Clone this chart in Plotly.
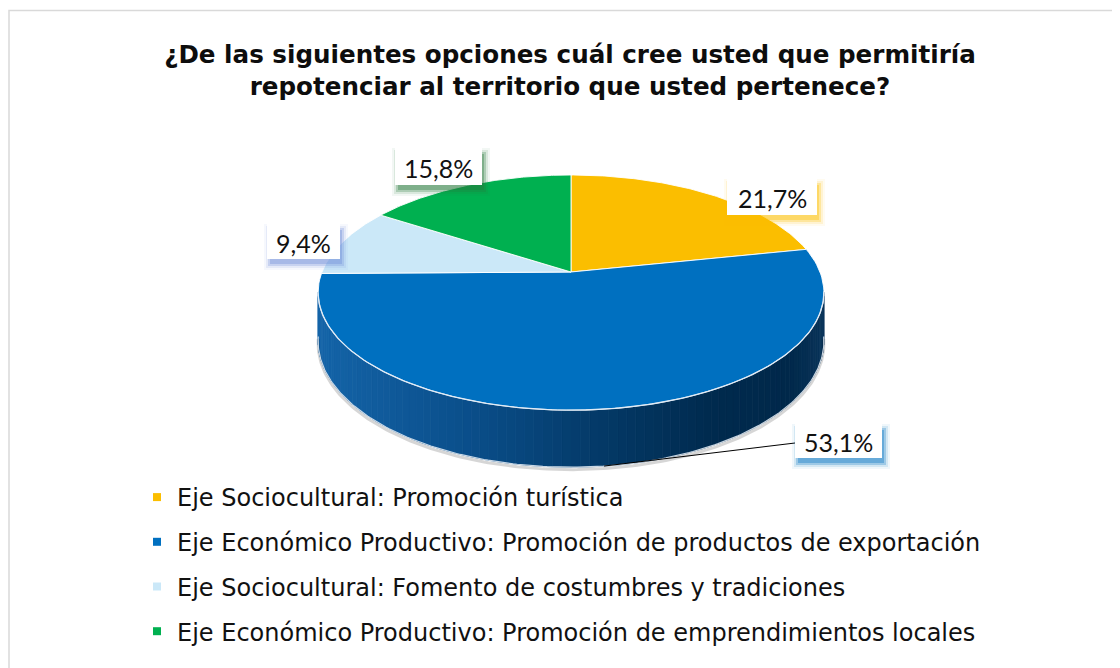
import numpy as np
import plotly.graph_objects as go

# ---------------- data ----------------
categories = [
    "Eje Sociocultural: Promoción turística",
    "Eje Económico Productivo: Promoción de productos de exportación",
    "Eje Sociocultural: Fomento de costumbres y tradiciones",
    "Eje Económico Productivo: Promoción de emprendimientos locales",
]
values = [21.7, 53.1, 9.4, 15.8]
value_labels = ["21,7%", "53,1%", "9,4%", "15,8%"]

title_text = ("<b>¿De las siguientes opciones cuál cree usted que permitiría<br>"
              "repotenciar al territorio que usted pertenece?</b>")

# ---------------- styles / layout ----------------
# the page body has an 8px margin, so the figure is 8px smaller and the
# axes are set so that data units equal page pixels
OFF = 8
W, H = 1120 - OFF, 668 - OFF
colors = ["#FBBE00", "#0070C0", "#CBE8F8", "#00B050"]
shadow_rgb = [(251, 190, 0), (0, 112, 192), (110, 140, 215), (40, 120, 60)]
FONT = "Lato"
TITLE_FONT = "DejaVu Sans"
LEGEND_FONT = "DejaVu Sans"

# 3D pie projection parameters (page pixels)
CX, CY, A, B, K, DEPTH = 571, 272, 249, 114, 0.175, 47


def proj(theta_deg, drop=0.0):
    t = np.radians(theta_deg)
    u = np.sin(t)
    v = -np.cos(t)
    s = 1.0 / (1.0 - K * v)
    return CX + A * u * s, CY + B * v * s + drop * s


# label box positions (x0, y0, x1, y1) in page pixels
label_boxes = [(727, 179, 817, 215), (795, 424, 882, 458),
               (267, 224, 340, 259), (395, 148, 482, 185)]

fig = go.Figure()

total = float(sum(values))
bounds = np.concatenate([[0.0], np.cumsum(values)]) / total * 360.0

# ---- side wall (front, visible part) with horizontal gradient ----
side_start, side_end = 100.0, 260.0
n_strips = 90
th = np.linspace(side_start, side_end, n_strips + 1)
xl, _ = proj(side_end)
xr, _ = proj(side_start)
stops = np.array([0.0, 0.3, 0.55, 0.78, 0.93, 1.0])
stop_cols = np.array([[20, 100, 168], [10, 78, 138], [4, 58, 104],
                      [0, 42, 78], [0, 40, 74], [10, 52, 90]])


def grad_color(xpix):
    f = (xpix - xl) / (xr - xl)
    c = [int(round(np.interp(f, stops, stop_cols[:, j]))) for j in range(3)]
    return "rgb(%d,%d,%d)" % tuple(c)


for i in range(n_strips):
    t0, t1 = th[i], th[i + 1]
    xa, ya = proj(t0)
    xb, yb = proj(t1)
    xc, yc = proj(t1, DEPTH)
    xd, yd = proj(t0, DEPTH)
    col = grad_color((xa + xb) / 2)
    fig.add_trace(go.Scatter(
        x=[xa, xb, xc, xd, xa], y=[ya, yb, yc, yd, ya],
        mode="lines", fill="toself", fillcolor=col,
        line=dict(color=col, width=0.8),
        hoverinfo="skip", showlegend=False))

# soft shadow / rim at bottom edge
tb = np.linspace(side_start - 2, side_end + 2, 200)
bx, by = proj(tb, DEPTH)
fig.add_trace(go.Scatter(x=bx, y=by + 2.5, mode="lines",
                         line=dict(color="rgba(0,0,0,0.16)", width=3),
                         hoverinfo="skip", showlegend=False))
fig.add_trace(go.Scatter(x=bx, y=by, mode="lines",
                         line=dict(color="rgba(220,230,240,0.9)", width=1.2),
                         hoverinfo="skip", showlegend=False))

# ---- top face slices ----
for i in range(len(values)):
    arc = np.linspace(bounds[i], bounds[i + 1], 120)
    ax_, ay_ = proj(arc)
    px = np.concatenate([[CX], ax_, [CX]])
    py = np.concatenate([[CY], ay_, [CY]])
    fig.add_trace(go.Scatter(
        x=px, y=py, mode="lines", fill="toself", fillcolor=colors[i],
        line=dict(color="rgba(255,255,255,0.9)", width=1),
        name=categories[i], text=value_labels[i],
        hoverinfo="name+text", showlegend=False))

# highlight on the front edge of the top face
te = np.linspace(side_start, side_end, 200)
ex, ey = proj(te)
fig.add_trace(go.Scatter(x=ex, y=ey, mode="lines",
                         line=dict(color="rgba(225,235,245,0.95)", width=1.3),
                         hoverinfo="skip", showlegend=False))

# ---- legend entries ----
for i in range(len(values)):
    fig.add_trace(go.Scatter(
        x=[None], y=[None], mode="markers",
        marker=dict(symbol="square", size=8, color=colors[i]),
        name=categories[i], legendgroup="g%d" % i, showlegend=True))

# ---- data labels (white boxes with coloured soft shadow) ----
shapes = []
annotations = []
for i, (x0, y0, x1, y1) in enumerate(label_boxes):
    r, g, b = shadow_rgb[i]
    for grow, alpha in [(5, 0.06), (3, 0.12), (1, 0.25), (-1, 0.35)]:
        shapes.append(dict(type="rect", xref="x", yref="y",
                           x0=x0 + 2 - grow, x1=x1 + 3 + grow,
                           y0=y0 + 5 - grow, y1=y1 + 6 + grow,
                           line=dict(width=0),
                           fillcolor="rgba(%d,%d,%d,%.2f)" % (r, g, b, alpha),
                           layer="above"))
    shapes.append(dict(type="rect", xref="x", yref="y",
                       x0=x0, x1=x1, y0=y0, y1=y1,
                       line=dict(width=0), fillcolor="white", layer="above"))
    annotations.append(dict(x=(x0 + x1) / 2, y=(y0 + y1) / 2 + 1,
                            xref="x", yref="y", text=value_labels[i],
                            showarrow=False,
                            font=dict(family=FONT, size=25, color="#111111")))

# leader line for the big slice: from mid-angle point on bottom rim to its box
mid_big = (bounds[1] + bounds[2]) / 2
lx, ly = proj(mid_big, DEPTH)
bx0, by0, bx1, by1 = label_boxes[1]
fig.add_trace(go.Scatter(x=[lx, bx0], y=[ly, (by0 + by1) / 2 + 2],
                         mode="lines", line=dict(color="black", width=1),
                         hoverinfo="skip", showlegend=False))

# chart border
shapes.append(dict(type="rect", xref="x", yref="y", x0=9, y0=10.5,
                   x1=1140, y1=700,
                   line=dict(color="#D9D9D9", width=1.5), layer="below"))

fig.update_layout(
    width=W, height=H,
    margin=dict(l=0, r=0, t=0, b=0, pad=0),
    paper_bgcolor="white", plot_bgcolor="rgba(0,0,0,0)",
    title=dict(text=title_text, x=(570 - OFF) / W, xanchor="center",
               y=1 - 55 / H, yanchor="top",
               font=dict(family=TITLE_FONT, size=24.6, color="#0D0D0D")),
    xaxis=dict(range=[OFF, 1120], visible=False, fixedrange=True,
               domain=[0, 1]),
    yaxis=dict(range=[668, OFF], visible=False, fixedrange=True,
               domain=[0, 1]),
    shapes=shapes, annotations=annotations,
    showlegend=True,
    legend=dict(x=(178 - 41 - OFF) / W, xanchor="left",
                y=1 - (475 - OFF) / H, yanchor="top",
                font=dict(family=LEGEND_FONT, size=24, color="#111111"),
                tracegroupgap=10.5, bgcolor="rgba(0,0,0,0)",
                itemclick=False, itemdoubleclick=False),
)

fig.write_html("out.html")
